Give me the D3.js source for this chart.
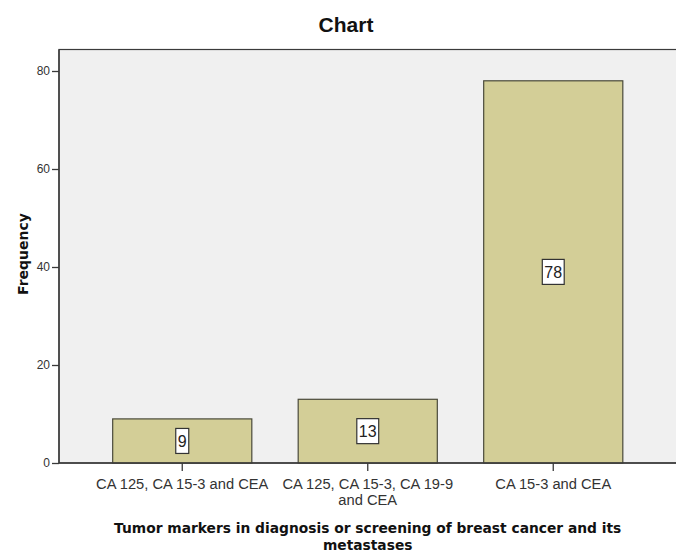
<!DOCTYPE html>
<html>
<head>
<meta charset="utf-8">
<script src="https://cdn.jsdelivr.net/npm/d3@7/dist/d3.min.js"></script>
<style>
  html, body { margin: 0; padding: 0; background: #fff; }
  svg { display: block; font-family: "Liberation Sans", Arial, sans-serif; }
</style>
</head>
<body>
<svg id="chart" width="676" height="555"></svg>
<script>
// Frequency of tumor marker combinations
const categories = [
  ["CA 125, CA 15-3 and CEA"],
  ["CA 125, CA 15-3, CA 19-9", "and CEA"],
  ["CA 15-3 and CEA"]
];
const frequencies = [9, 13, 78];
const yTicks = [0, 20, 40, 60, 80];
const chartTitle = "Chart";
const xTitle = ["Tumor markers in diagnosis or screening of breast cancer and its", "metastases"];
const yTitle = "Frequency";

const svg = d3.select("#chart");

const plot = { left: 59, right: 681, top: 49.5, bottom: 463 };
const boldFont = "DejaVu Sans, Verdana, sans-serif";

const y = d3.scaleLinear().domain([0, 80]).range([plot.bottom, 71]);
const keys = categories.map(c => c.join(" "));
const x = d3.scaleBand()
  .domain(keys)
  .range([89.5, 646])
  .paddingInner(0.25)
  .paddingOuter(0.125);

// plot background
svg.append("rect")
  .attr("x", plot.left).attr("y", plot.top)
  .attr("width", plot.right - plot.left).attr("height", plot.bottom - plot.top)
  .attr("fill", "#f0f0f0")
  .attr("stroke", "#3a3a3a").attr("stroke-width", 1.2);

// bars
svg.append("g").selectAll("rect")
  .data(frequencies)
  .join("rect")
  .attr("x", (d, i) => x(keys[i]))
  .attr("y", d => y(d))
  .attr("width", x.bandwidth())
  .attr("height", d => y(0) - y(d))
  .attr("fill", "#d3ce97")
  .attr("stroke", "#4a4a3a")
  .attr("stroke-width", 1.2);

// value labels in boxes
const lab = svg.append("g").selectAll("g")
  .data(frequencies)
  .join("g")
  .attr("transform", (d, i) => `translate(${x(keys[i]) + x.bandwidth() / 2},${(y(d) + y(0)) / 2})`);
lab.append("text")
  .attr("text-anchor", "middle")
  .attr("dy", "0.36em")
  .attr("font-size", 16)
  .attr("fill", "#222")
  .text(d => d)
  .each(function () {
    const b = this.getBBox();
    d3.select(this.parentNode).insert("rect", "text")
      .attr("x", -b.width / 2 - 2).attr("y", -12.5)
      .attr("width", b.width + 4).attr("height", 25)
      .attr("fill", "#fff")
      .attr("stroke", "#333").attr("stroke-width", 1.2);
  });

// y axis
const yAxis = d3.axisLeft(y).tickValues(yTicks).tickSize(7).tickPadding(2);
const gy = svg.append("g")
  .attr("transform", `translate(${plot.left},0)`)
  .call(yAxis);
gy.select(".domain").remove();
gy.selectAll(".tick line").attr("stroke", "#3a3a3a").attr("stroke-width", 1.3);
gy.selectAll(".tick text")
  .attr("font-size", 12).attr("fill", "#333")
  .attr("font-family", "Liberation Sans, Arial, sans-serif");

// x axis
const xAxis = d3.axisBottom(x).tickSize(8).tickFormat("");
const gx = svg.append("g")
  .attr("transform", `translate(0,${plot.bottom})`)
  .call(xAxis);
gx.select(".domain").remove();
gx.selectAll(".tick line").attr("stroke", "#3a3a3a").attr("stroke-width", 1.3);
gx.selectAll(".tick").each(function (k, i) {
  const t = d3.select(this).append("text")
    .attr("text-anchor", "middle")
    .attr("font-size", 14.7)
    .attr("fill", "#333")
    .attr("font-family", "Liberation Sans, Arial, sans-serif");
  categories[i].forEach((line, j) => {
    t.append("tspan").attr("x", 0).attr("y", 26 + j * 16).text(line);
  });
});

// axis lines
svg.append("line")
  .attr("x1", plot.left).attr("x2", plot.right)
  .attr("y1", plot.bottom).attr("y2", plot.bottom)
  .attr("stroke", "#3a3a3a").attr("stroke-width", 1.4);
svg.append("line")
  .attr("x1", plot.left).attr("x2", plot.left)
  .attr("y1", plot.top).attr("y2", plot.bottom)
  .attr("stroke", "#3a3a3a").attr("stroke-width", 1.4);

// titles
svg.append("text")
  .attr("x", 346).attr("y", 32)
  .attr("text-anchor", "middle")
  .attr("font-size", 21).attr("font-weight", "bold")
  .attr("fill", "#111")
  .text(chartTitle);

const xt = svg.append("text")
  .attr("text-anchor", "middle")
  .attr("font-family", boldFont)
  .attr("font-size", 13.8).attr("font-weight", "bold")
  .attr("fill", "#111");
xTitle.forEach((line, j) => {
  xt.append("tspan").attr("x", 367.7).attr("y", 533 + j * 16.5).text(line);
});

svg.append("text")
  .attr("transform", `translate(28,254) rotate(-90)`)
  .attr("text-anchor", "middle")
  .attr("font-family", boldFont)
  .attr("font-size", 14).attr("font-weight", "bold")
  .attr("fill", "#111")
  .text(yTitle);
</script>
</body>
</html>
